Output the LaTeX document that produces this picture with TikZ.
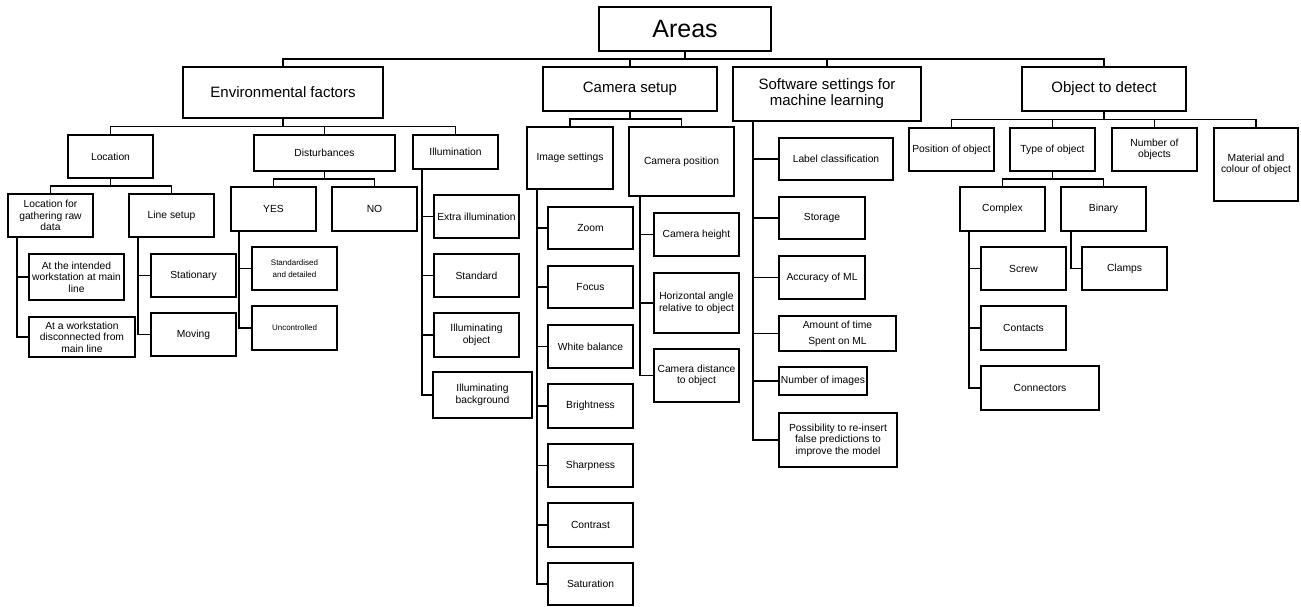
\documentclass[tikz,border=0pt]{standalone}
\usepackage{fontspec}
\setmainfont{Liberation Sans}
\usetikzlibrary{calc}
\tikzset{
  box/.style={draw, line width=1.5pt, inner sep=1pt, outer sep=0pt, align=center, fill=white},
  conn/.style={line width=1.5pt},
  fbig/.style={font=\fontsize{25}{28}\selectfont},
  fmid/.style={font=\fontsize{15}{16}\selectfont},
  fsml/.style={font=\fontsize{10.3}{11.5}\selectfont},
  ftiny/.style={font=\fontsize{8}{12.5}\selectfont},
  fspread/.style={font=\fontsize{10.3}{16}\selectfont},
}
\newcommand{\bx}[7][fsml]{\node[box,#1,minimum width={(#5-#3)*1pt},minimum height={(#6-#4)*1pt}] (#2) at ({(#3+#5)/2},{(#4+#6)/2}) {#7};}
\newcommand{\tr}[2]{\draw[conn] (#1.south) |- ($(#1.south)!.5!(#2.north)$) -| (#2.north);}
\newcommand{\sd}[3]{\draw[conn] ([xshift=#3pt]#1.south west) |- (#2.west);}
\begin{document}
\begin{tikzpicture}[x=1pt,y=-1pt]
\useasboundingbox (0,0) rectangle (1301,607);
% top level
\bx[fbig]{areas}{599}{7}{771}{51}{Areas}
\bx[fmid]{env}{183}{67}{383}{118}{Environmental factors}
\bx[fmid]{cam}{543}{67}{717}{111}{Camera setup}
\bx[fmid]{soft}{733}{67}{921}{121}{Software settings for\\machine learning}
\bx[fmid]{obj}{1022}{67}{1186}{111}{Object to detect}
% environmental
\bx{loc}{68}{135}{153}{178}{Location}
\bx{dist}{254}{135}{395}{171}{Disturbances}
\bx{illum}{413}{135}{498}{169}{Illumination}
\bx{locg}{8}{194}{93}{237}{Location for\\gathering raw\\data}
\bx{line}{129}{194}{214}{237}{Line setup}
\bx{intended}{29}{254}{124}{300}{At the intended\\workstation at main\\line}
\bx{discon}{29}{317}{135}{357}{At a workstation\\disconnected from\\main line}
\bx{stat}{151}{254}{236}{297}{Stationary}
\bx{moving}{151}{313}{236}{356}{Moving}
\bx{yes}{231}{187}{316}{231}{YES}
\bx{no}{332}{187}{417}{231}{NO}
\bx[ftiny]{stdd}{252}{247}{337}{290}{Standardised\\and detailed}
\bx[ftiny]{unc}{252}{306}{337}{350}{Uncontrolled}
\bx{extra}{434}{195}{519}{238}{Extra illumination}
\bx{std}{434}{254}{519}{297}{Standard}
\bx{illobj}{434}{313}{519}{357}{Illuminating\\object}
\bx{illbg}{433}{372}{532}{418}{Illuminating\\background}
% camera
\bx{imgset}{527}{127}{613}{189}{Image settings}
\bx{campos}{629}{127}{734}{196}{Camera position}
\bx{zoom}{548}{207}{633}{249}{Zoom}
\bx{focus}{548}{266}{633}{308}{Focus}
\bx{wb}{548}{325}{633}{368}{White balance}
\bx{bright}{548}{384}{633}{428}{Brightness}
\bx{sharp}{548}{444}{633}{487}{Sharpness}
\bx{contrast}{548}{503}{633}{547}{Contrast}
\bx{sat}{548}{563}{633}{605}{Saturation}
\bx{camh}{654}{213}{739}{256}{Camera height}
\bx{hangle}{654}{273}{739}{333}{Horizontal angle\\relative to object}
\bx{camdist}{654}{349}{739}{402}{Camera distance\\to object}
% software
\bx{label}{779}{138}{893}{180}{Label classification}
\bx{storage}{779}{197}{865}{239}{Storage}
\bx{acc}{779}{256}{865}{299}{Accuracy of ML}
\bx[fspread]{amount}{779}{316}{896}{351}{Amount of time\\Spent on ML}
\bx{numimg}{779}{367}{867}{395}{Number of images}
\bx{poss}{779}{413}{897}{467}{Possibility to re-insert\\false predictions to\\improve the model}
% object
\bx{posobj}{909}{128}{994}{171}{Position of object}
\bx{type}{1010}{128}{1095}{171}{Type of object}
\bx{num}{1112}{128}{1197}{171}{Number of\\objects}
\bx{mat}{1214}{128}{1298}{201}{Material and\\colour of object}
\bx{complex}{960}{187}{1045}{231}{Complex}
\bx{binary}{1061}{187}{1146}{231}{Binary}
\bx{screw}{981}{247}{1066}{290}{Screw}
\bx{contacts}{981}{306}{1066}{350}{Contacts}
\bx{connectors}{981}{366}{1099}{410}{Connectors}
\bx{clamps}{1082}{247}{1167}{290}{Clamps}
% tree connectors
\tr{areas}{env}\tr{areas}{cam}\tr{areas}{soft}\tr{areas}{obj}
\tr{env}{loc}\tr{env}{dist}\tr{env}{illum}
\tr{loc}{locg}\tr{loc}{line}
\tr{dist}{yes}\tr{dist}{no}
\tr{cam}{imgset}\tr{cam}{campos}
\tr{obj}{posobj}\tr{obj}{type}\tr{obj}{num}\tr{obj}{mat}
\tr{type}{complex}\tr{type}{binary}
% side connectors
\sd{locg}{intended}{9}\sd{locg}{discon}{9}
\sd{line}{stat}{9}\sd{line}{moving}{9}
\sd{yes}{stdd}{8}\sd{yes}{unc}{8}
\sd{illum}{extra}{9}\sd{illum}{std}{9}\sd{illum}{illobj}{9}\sd{illum}{illbg}{9}
\sd{imgset}{zoom}{10}\sd{imgset}{focus}{10}\sd{imgset}{wb}{10}\sd{imgset}{bright}{10}
\sd{imgset}{sharp}{10}\sd{imgset}{contrast}{10}\sd{imgset}{sat}{10}
\sd{campos}{camh}{11}\sd{campos}{hangle}{11}\sd{campos}{camdist}{11}
\sd{soft}{label}{20}\sd{soft}{storage}{20}\sd{soft}{acc}{20}
\sd{soft}{amount}{20}\sd{soft}{numimg}{20}\sd{soft}{poss}{20}
\sd{complex}{screw}{9}\sd{complex}{contacts}{9}\sd{complex}{connectors}{9}
\sd{binary}{clamps}{10}
\end{tikzpicture}
\end{document}
